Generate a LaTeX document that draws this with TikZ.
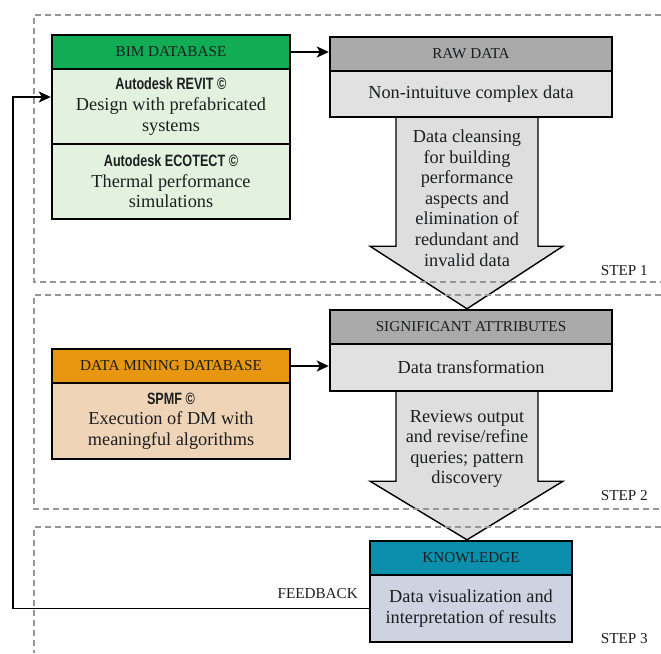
\documentclass[tikz,border=0pt]{standalone}
\usepackage{fontspec}
\setmainfont{Liberation Serif}
\newfontfamily\condsans{Liberation Sans Bold}[FakeStretch=0.77]
\usetikzlibrary{arrows.meta,calc}
\definecolor{bimgreen}{RGB}{18,172,84}
\definecolor{bimlight}{RGB}{227,242,223}
\definecolor{rawgray}{RGB}{170,170,170}
\definecolor{rawlight}{RGB}{225,225,225}
\definecolor{dmorange}{RGB}{232,150,15}
\definecolor{dmlight}{RGB}{239,212,183}
\definecolor{knteal}{RGB}{12,143,172}
\definecolor{knlight}{RGB}{205,211,224}
\definecolor{arrowgray}{RGB}{222,222,222}
\definecolor{dashgray}{RGB}{150,150,150}
\definecolor{txt}{RGB}{28,30,32}
\begin{document}
\begin{tikzpicture}[x=1pt,y=-1pt,
  box/.style={draw=black, line width=2.4pt, inner sep=2pt, align=center, text=txt},
  hdr/.style={box, minimum height=34pt, font=\fontsize{15.2}{17}\selectfont},
  bodybox/.style={box, font=\fontsize{18.3}{20.6}\selectfont},
  blockarrow/.style={draw=black, line width=1.4pt, fill=arrowgray, line join=miter},
  arrowtxt/.style={align=center, text=txt, font=\fontsize{18.3}{20.6}\selectfont},
  conn/.style={line width=1.4pt, -{Stealth[length=12pt,width=11pt,inset=3pt]}},
  stepline/.style={draw=dashgray, line width=1.1pt, dash pattern=on 6pt off 4pt},
  steplbl/.style={inner sep=0pt, text=txt, font=\fontsize{15.2}{17}\selectfont}]
\useasboundingbox (0,0) rectangle (661,653);

% ---- boxes ----
\node[hdr, fill=bimgreen, minimum width=238pt] (bimh) at (171,52) {BIM DATABASE};
\node[bodybox, fill=bimlight, minimum width=238pt, minimum height=75pt] (bimr) at (171,106.5)
  {{\condsans\fontsize{16.4}{17}\selectfont Autodesk REVIT ©}\\Design with prefabricated\\systems};
\node[bodybox, fill=bimlight, minimum width=238pt, minimum height=75pt] (bime) at (171,181.5)
  {{\condsans\fontsize{16.4}{17}\selectfont Autodesk ECOTECT ©}\\Thermal performance\\simulations};

\node[hdr, fill=rawgray, minimum width=282pt] (rawh) at (471,54) {RAW DATA};
\node[bodybox, fill=rawlight, minimum width=282pt, minimum height=46pt] (rawb) at (471,94) {Non-intuituve complex data};

\node[hdr, fill=dmorange, minimum width=238pt] (dmh) at (171,366) {DATA MINING DATABASE};
\node[bodybox, fill=dmlight, minimum width=238pt, minimum height=76pt] (dmb) at (171,421)
  {{\condsans\fontsize{16.4}{17}\selectfont SPMF ©}\\Execution of DM with\\meaningful algorithms};

\node[hdr, fill=rawgray, minimum width=282pt] (sigh) at (471,327) {SIGNIFICANT ATTRIBUTES};
\node[bodybox, fill=rawlight, minimum width=282pt, minimum height=47pt] (sigb) at (471,367.5) {Data transformation};

\node[hdr, fill=knteal, minimum width=202pt] (knh) at (471,558) {KNOWLEDGE};
\node[bodybox, fill=knlight, minimum width=202pt, minimum height=67pt] (knb) at (471,608.5)
  {Data visualization and\\interpretation of results};

% ---- block arrows ----
\draw[blockarrow] ($(rawb.south)+(-75,0)$) -- ++(0,128) -- ++(-26,0) -- ([xshift=-4pt]sigh.north)
  -- ($(rawb.south)+(92,128)$) -- ++(-25,0) -- ($(rawb.south)+(67,0)$);
\node[arrowtxt] (a1t) at (467,198) {Data cleansing\\for building\\performance\\aspects and\\elimination of\\redundant and\\invalid data};

\draw[blockarrow] ($(sigb.south)+(-75,0)$) -- ++(0,89) -- ++(-26,0) -- ([xshift=-4pt]knh.north)
  -- ($(sigb.south)+(92,89)$) -- ++(-25,0) -- ($(sigb.south)+(67,0)$);
\node[arrowtxt] (a2t) at (467,449) {Reviews output\\and revise/refine\\queries; pattern\\discovery};

% ---- step frames ----
\draw[stepline] (661,15) -- (34,15) -- (34,282) -- (661,282);
\draw[stepline] (661,295) -- (34,295) -- (34,509) -- (661,509);
\draw[stepline] (661,527) -- (34,527) -- (34,653);
\node[steplbl, anchor=base east] (s1) at (648,275) {STEP 1};
\node[steplbl, anchor=base east] (s2) at (648,500) {STEP 2};
\node[steplbl, anchor=base east] (s3) at (648,643) {STEP 3};

% ---- connectors ----
\draw[conn] (bimh.east) -- (bimh.east -| rawh.west);
\draw[conn] (dmh.east) -- (dmh.east -| sigb.west);
\coordinate (fbc) at (13,97);
\draw[conn] (knb.west) -| (fbc) -- (fbc -| bimr.west);
\node[steplbl, anchor=base east] (fbl) at (358,598) {FEEDBACK};
\end{tikzpicture}
\end{document}
